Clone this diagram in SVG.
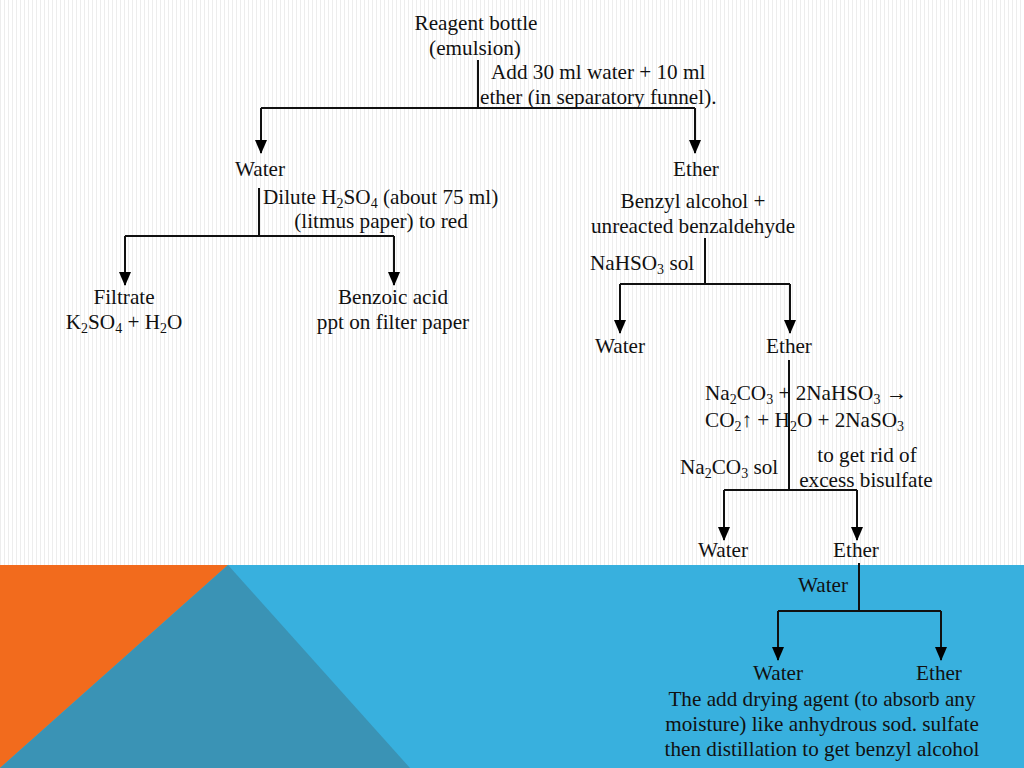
<svg xmlns="http://www.w3.org/2000/svg" width="1024" height="768" viewBox="0 0 1024 768">
<defs>
<pattern id="stripes" x="0" y="0" width="4" height="8" patternUnits="userSpaceOnUse">
<rect width="4" height="8" fill="#ffffff"/>
<rect x="0" width="1" height="8" fill="#ededed"/>
</pattern>
<marker id="ah" markerUnits="userSpaceOnUse" markerWidth="14" markerHeight="12" refX="13" refY="6" orient="auto" viewBox="0 0 14 12">
<path d="M0,0 L14,6 L0,12 Z" fill="#000"/>
</marker>
<style>
text{font-family:'Liberation Serif','Times New Roman',serif;font-size:21.2px;fill:#111;}
.c{text-anchor:middle;}
.sub{font-size:14px;}
.ln{stroke:#111;stroke-width:2;fill:none;}
.arrow{stroke:#111;stroke-width:2;fill:none;marker-end:url(#ah);}
</style>
</defs>
<rect width="1024" height="768" fill="url(#stripes)"/>
<g id="band">
<rect x="0" y="565" width="1024" height="203" fill="#38b0de"/>
<polygon points="0,565 228,565 0,768" fill="#f26b1d"/>
<polygon points="228,565 410,768 0,768" fill="#3a93b5"/>
</g>
<g id="connectors">
<path class="ln" d="M478,60 V108"/>
<path class="ln" d="M261,108 H695"/>
<path class="arrow" d="M261,108 V153"/>
<path class="arrow" d="M695,108 V153"/>
<path class="ln" d="M259,188 V236"/>
<path class="ln" d="M125,236 H394"/>
<path class="arrow" d="M125,236 V285"/>
<path class="arrow" d="M394,236 V285"/>
<path class="ln" d="M705,238 V284"/>
<path class="ln" d="M620,284 H790"/>
<path class="arrow" d="M620,284 V333"/>
<path class="arrow" d="M790,284 V333"/>
<path class="ln" d="M789,360 V490"/>
<path class="ln" d="M724,490 H857"/>
<path class="arrow" d="M724,490 V540"/>
<path class="arrow" d="M857,490 V540"/>
<path class="ln" d="M859,563 V611"/>
<path class="ln" d="M778,611 H941"/>
<path class="arrow" d="M778,611 V660"/>
<path class="arrow" d="M941,611 V660"/>
</g>
<g id="reagent">
<text class="c" x="476" y="30">Reagent bottle</text>
<text class="c" x="475" y="55">(emulsion)</text>
</g>
<g id="add-label">
<text x="491" y="79">Add 30 ml water + 10 ml</text>
<text x="480" y="104">ether (in separatory funnel).</text>
</g>
<g id="water1"><text class="c" x="260" y="176">Water</text></g>
<g id="ether1"><text class="c" x="696" y="176">Ether</text></g>
<g id="dilute-label">
<text x="263" y="204">Dilute H<tspan class="sub" dy="4">2</tspan><tspan dy="-4">SO</tspan><tspan class="sub" dy="4">4</tspan><tspan dy="-4"> (about 75 ml)</tspan></text>
<text class="c" x="381" y="228">(litmus paper) to red</text>
</g>
<g id="filtrate">
<text class="c" x="124" y="304">Filtrate</text>
<text class="c" x="124" y="329">K<tspan class="sub" dy="4">2</tspan><tspan dy="-4">SO</tspan><tspan class="sub" dy="4">4</tspan><tspan dy="-4"> + H</tspan><tspan class="sub" dy="4">2</tspan><tspan dy="-4">O</tspan></text>
</g>
<g id="benzoic">
<text class="c" x="393" y="304">Benzoic acid</text>
<text class="c" x="393" y="329">ppt on filter paper</text>
</g>
<g id="benzyl">
<text class="c" x="693" y="208">Benzyl alcohol +</text>
<text class="c" x="693" y="233">unreacted benzaldehyde</text>
</g>
<g id="nahso3-label"><text x="590" y="270">NaHSO<tspan class="sub" dy="4">3</tspan><tspan dy="-4"> sol</tspan></text></g>
<g id="water2"><text class="c" x="620" y="353">Water</text></g>
<g id="ether2"><text class="c" x="789" y="353">Ether</text></g>
<g id="equation">
<text x="705" y="400">Na<tspan class="sub" dy="4">2</tspan><tspan dy="-4">CO</tspan><tspan class="sub" dy="4">3</tspan><tspan dy="-4"> + 2NaHSO</tspan><tspan class="sub" dy="4">3</tspan><tspan dy="-4"> →</tspan></text>
<text x="705" y="427">CO<tspan class="sub" dy="4">2</tspan><tspan dy="-4">↑ + H</tspan><tspan class="sub" dy="4">2</tspan><tspan dy="-4">O + 2NaSO</tspan><tspan class="sub" dy="4">3</tspan></text>
</g>
<g id="na2co3-label"><text x="680" y="474">Na<tspan class="sub" dy="4">2</tspan><tspan dy="-4">CO</tspan><tspan class="sub" dy="4">3</tspan><tspan dy="-4"> sol</tspan></text></g>
<g id="rid-label">
<text class="c" x="867" y="462">to get rid of</text>
<text class="c" x="866" y="487">excess bisulfate</text>
</g>
<g id="water3"><text class="c" x="723" y="557">Water</text></g>
<g id="ether3"><text class="c" x="856" y="557">Ether</text></g>
<g id="water-label"><text class="c" x="823" y="592">Water</text></g>
<g id="water4"><text class="c" x="778" y="680">Water</text></g>
<g id="ether4"><text class="c" x="939" y="680">Ether</text></g>
<g id="final">
<text class="c" x="822" y="706">The add drying agent (to absorb any</text>
<text class="c" x="822" y="731">moisture) like anhydrous sod. sulfate</text>
<text class="c" x="822" y="756">then distillation to get benzyl alcohol</text>
</g>
</svg>
